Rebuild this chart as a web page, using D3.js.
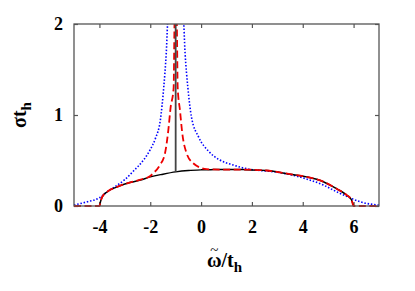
<!DOCTYPE html>
<html lang="en">
<head>
<meta charset="utf-8">
<title>sigma t_h</title>
<script src="https://cdn.jsdelivr.net/npm/d3@7"></script>
<style>
  * { margin: 0; padding: 0; }
  body { background: #fff; }
  svg { display: block; }
</style>
</head>
<body>
<div id="chart"></div>
<script>
// x values and sigma*t_h values
const blackX = [-4, -3.95, -3.89, -3.69, -3.3, -2.77, -2.38, -2.0, -1.5, -1.0, -0.5, 0, 0.5, 1.0, 1.66, 2.58, 3.5, 4.15, 4.81, 5.33, 5.73, 5.92, 6.0];
const blackY = [0, 0.055, 0.10, 0.157, 0.21, 0.26, 0.286, 0.32, 0.35, 0.375, 0.39, 0.397, 0.40, 0.402, 0.40, 0.39, 0.35, 0.32, 0.267, 0.19, 0.12, 0.066, 0];

const redX = [-5, -4, -3.95, -3.89, -3.69, -3.3, -2.77, -2.38, -2.0, -1.88, -1.62, -1.42, -1.29, -1.2, -1.08, -1.04, -0.96, -0.92, -0.83, -0.74, -0.57, -0.31, 0.22, 0.8, 1.66, 2.58, 3.5, 4.15, 4.81, 5.33, 5.73, 5.92, 6.0, 7];
const redY = [0, 0, 0.05, 0.10, 0.157, 0.21, 0.26, 0.29, 0.33, 0.36, 0.45, 0.58, 0.83, 1.08, 1.3, 2.05, 2.05, 1.3, 1.05, 0.80, 0.58, 0.47, 0.405, 0.40, 0.40, 0.39, 0.35, 0.32, 0.267, 0.19, 0.12, 0.066, 0, 0];

const blueX = [-5, -4.5, -4.0, -3.7, -3.4, -3.0, -2.64, -2.25, -2.0, -1.8, -1.6, -1.47, -1.37, -1.3, -0.7, -0.63, -0.52, -0.38, -0.1, 0.3, 0.74, 1.27, 1.79, 2.32, 2.84, 3.5, 4.15, 4.81, 5.33, 5.86, 6.25, 6.64, 7];
const blueY = [0.01, 0.045, 0.09, 0.155, 0.21, 0.29, 0.39, 0.51, 0.62, 0.74, 0.95, 1.3, 1.68, 2.05, 2.05, 1.68, 1.3, 0.98, 0.76, 0.6, 0.505, 0.45, 0.41, 0.39, 0.377, 0.345, 0.297, 0.23, 0.157, 0.09, 0.047, 0.022, 0.01];

// delta peak of the solid curve
const deltaX = -1;
const deltaFrom = 0.375;
const deltaTo = 2;

const xTicks = [-4, -2, 0, 2, 4, 6];
const yTicks = [0, 1, 2];

const W = 415, H = 291;
const m = {left: 74, top: 24, right: 36, bottom: 85};
const w = W - m.left - m.right, h = H - m.top - m.bottom;
const font = "'Liberation Serif', 'Times New Roman', serif";

const svg = d3.select("#chart").append("svg")
  .attr("width", W).attr("height", H);

svg.append("defs").append("clipPath").attr("id", "clip")
  .append("rect").attr("x", -2).attr("width", w + 4).attr("height", h + 1);

const x = d3.scaleLinear().domain([-5, 7]).range([0, w]);
const y = d3.scaleLinear().domain([0, 2]).range([h, 0]);

const g = svg.append("g").attr("transform", `translate(${m.left},${m.top})`);

// axes, ticks pointing inward
g.append("g").attr("transform", `translate(0,${h})`)
  .call(d3.axisBottom(x).tickValues(xTicks).tickSize(-4).tickSizeOuter(0).tickPadding(14).tickFormat(d3.format("d")));
g.append("g")
  .call(d3.axisTop(x).tickValues(xTicks).tickSize(-4).tickSizeOuter(0).tickFormat(""));
g.append("g")
  .call(d3.axisLeft(y).tickValues(yTicks).tickSize(-4).tickSizeOuter(0).tickPadding(11).tickFormat(d3.format("d")));
g.append("g").attr("transform", `translate(${w},0)`)
  .call(d3.axisRight(y).tickValues(yTicks).tickSize(-4).tickSizeOuter(0).tickFormat(""));
g.selectAll(".domain").remove();
g.selectAll(".tick line").attr("stroke", "#555").attr("stroke-width", 1.2);
g.selectAll(".tick text")
  .attr("font-family", null).attr("font-size", null)
  .style("font-family", font).style("font-weight", "bold").style("font-size", "18px")
  .attr("fill", "#000")
  .text(function() { return this.textContent.replace("\u2212", "-"); });
g.selectAll("g").attr("font-family", null);

const line = d3.line().x(d => x(d[0])).y(d => y(d[1])).curve(d3.curveMonotoneX);
const plot = g.append("g").attr("clip-path", "url(#clip)");

// frame
g.append("rect").attr("width", w).attr("height", h)
  .attr("fill", "none").attr("stroke", "#555").attr("stroke-width", 1.3);

plot.append("path").datum(d3.zip(blueX, blueY))
  .attr("d", line).attr("fill", "none").attr("stroke", "#0000ff")
  .attr("stroke-width", 1.6).attr("stroke-dasharray", "1.5,1.8");
plot.append("path").datum(d3.zip(blackX, blackY))
  .attr("d", line).attr("fill", "none").attr("stroke", "#000")
  .attr("stroke-width", 1.5);
plot.append("path").datum(d3.zip(redX, redY))
  .attr("d", line).attr("fill", "none").attr("stroke", "#ee0000")
  .attr("stroke-width", 1.8).attr("stroke-dasharray", "7,3.5");
plot.append("line")
  .attr("x1", x(deltaX)).attr("x2", x(deltaX))
  .attr("y1", y(deltaFrom)).attr("y2", y(deltaTo))
  .attr("stroke", "#444").attr("stroke-width", 1.8);

// axis titles
const xt = svg.append("text")
  .attr("x", m.left + w / 2 - 2).attr("y", 267)
  .attr("text-anchor", "middle")
  .style("font-family", font).style("font-size", "20px").style("font-weight", "bold");
xt.append("tspan").text("ω/t");
xt.append("tspan").attr("dy", 5).style("font-size", "15px").text("h");
const om = xt.node().getExtentOfChar(0);
svg.append("text")
  .attr("x", om.x + om.width / 2).attr("y", om.y + 6)
  .attr("text-anchor", "middle")
  .style("font-family", font).style("font-size", "15px")
  .text("~");

const yt = svg.append("text")
  .attr("transform", `translate(26,${m.top + h / 2}) rotate(-90)`)
  .attr("text-anchor", "middle")
  .style("font-family", font).style("font-size", "20px").style("font-weight", "bold");
yt.append("tspan").text("σt");
yt.append("tspan").attr("dy", 5).style("font-size", "15px").text("h");
</script>
</body>
</html>
